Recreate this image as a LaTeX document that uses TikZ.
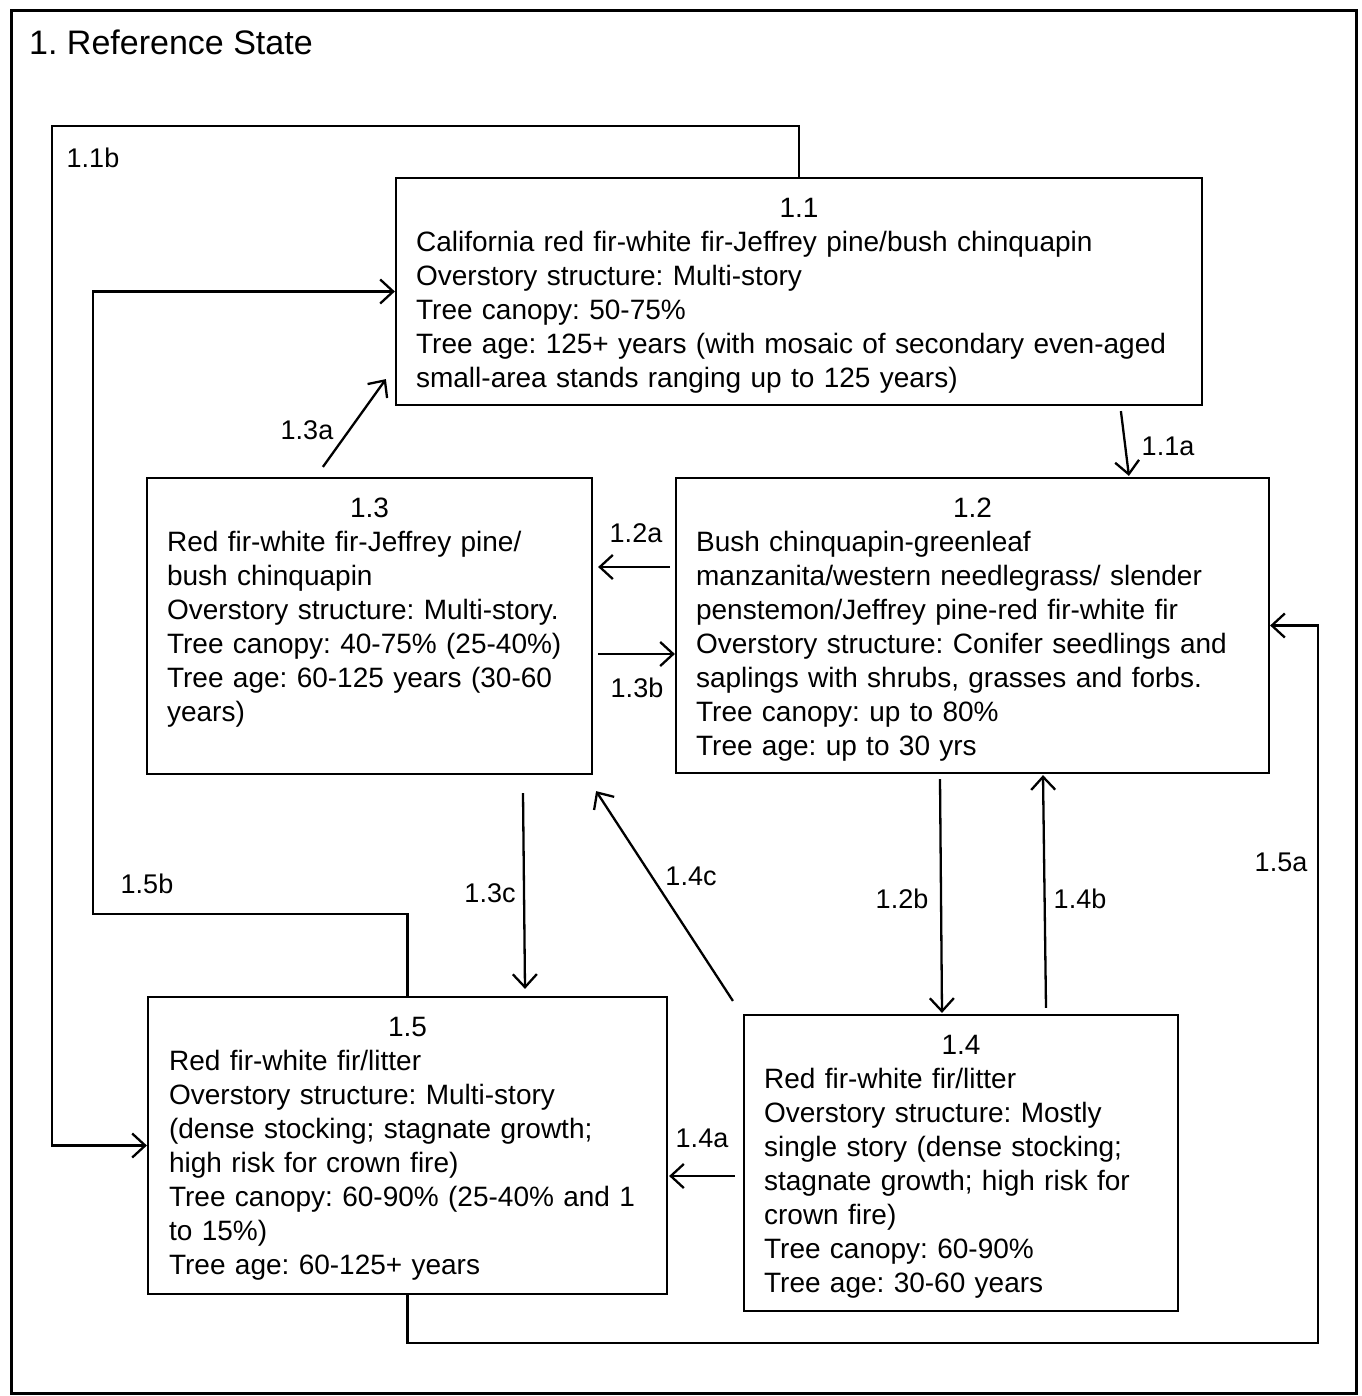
\documentclass[tikz,border=0pt]{standalone}
\usepackage{fontspec}
\setmainfont{Liberation Sans}
\usetikzlibrary{arrows.meta,calc}
\begin{document}
\frenchspacing
\begin{tikzpicture}[x=1pt,y=-1pt,
  box/.style={draw, line width=2.2pt, rectangle, inner sep=0pt},
  bodytxt/.style={inner sep=0pt, anchor=base west, align=left, text width=790pt, font=\frenchspacing\fontsize{28}{34}\selectfont},
  ttl/.style={inner sep=0pt, anchor=base, font=\fontsize{28}{34}\selectfont},
  lbl/.style={inner sep=0pt, font=\fontsize{27}{32}\selectfont},
  arr/.style={line width=2.3pt, -{Straight Barb[length=13pt,width=24pt]}},
]
\useasboundingbox (0,0) rectangle (1361,1396);
\draw[line width=3pt] (11,11) rectangle (1356,1393);
\node[inner sep=0pt, anchor=base west, font=\frenchspacing\fontsize{34}{40}\selectfont] (title) at (29,55) {1. Reference State};

% boxes
\node[box, minimum width=806pt, minimum height=227pt] (b11) at (799,291.5) {};
\node[box, minimum width=445pt, minimum height=296pt] (b13) at (369.5,626) {};
\node[box, minimum width=593pt, minimum height=295pt] (b12) at (972.5,625.5) {};
\node[box, minimum width=519pt, minimum height=297pt] (b15) at (407.5,1145.5) {};
\node[box, minimum width=434pt, minimum height=296pt] (b14) at (961,1163) {};

% titles
\node[ttl] (t11) at ($(b11.north)+(0,41)$) {1.1};
\node[ttl] (t13) at ($(b13.north)+(0,41)$) {1.3};
\node[ttl] (t12) at ($(b12.north)+(0,41)$) {1.2};
\node[ttl] (t15) at ($(b15.north)+(0,41)$) {1.5};
\node[ttl] (t14) at ($(b14.north)+(0,41)$) {1.4};

% body texts
\node[bodytxt] (x11) at ($(b11.north west)+(21,75)$) {California red fir-white fir-Jeffrey pine/bush chinquapin\\
Overstory structure: Multi-story\\
Tree canopy: 50-75\%\\
Tree age: 125+ years (with mosaic of secondary even-aged\\
small-area stands ranging up to 125 years)};
\node[bodytxt] (x13) at ($(b13.north west)+(21,75)$) {Red fir-white fir-Jeffrey pine/\\
bush chinquapin\\
Overstory structure: Multi-story.\\
Tree canopy: 40-75\% (25-40\%)\\
Tree age: 60-125 years (30-60\\
years)};
\node[bodytxt] (x12) at ($(b12.north west)+(21,75)$) {Bush chinquapin-greenleaf\\
manzanita/western needlegrass/ slender\\
penstemon/Jeffrey pine-red fir-white fir\\
Overstory structure: Conifer seedlings and\\
saplings with shrubs, grasses and forbs.\\
Tree canopy: up to 80\%\\
Tree age: up to 30 yrs};
\node[bodytxt] (x15) at ($(b15.north west)+(22,75)$) {Red fir-white fir/litter\\
Overstory structure: Multi-story\\
(dense stocking; stagnate growth;\\
high risk for crown fire)\\
Tree canopy: 60-90\% (25-40\% and 1\\
to 15\%)\\
Tree age: 60-125+ years};
\node[bodytxt] (x14) at ($(b14.north west)+(21,75)$) {Red fir-white fir/litter\\
Overstory structure: Mostly\\
single story (dense stocking;\\
stagnate growth; high risk for\\
crown fire)\\
Tree canopy: 60-90\%\\
Tree age: 30-60 years};

% bend coordinates
\coordinate (k1) at (52,126);
\coordinate (k2) at (93,914);
\coordinate (k3) at (1318,1343);

% connectors
\draw[arr] (b11.north) |- (k1) |- (b15.west);
\draw[arr] (b15.north) |- (k2) |- (b11.west);
\draw[arr] (b15.south) |- (k3) |- (b12.east);
\draw[arr] ($(b11.south west)+(726,5)$) -- ($(b12.north west)+(454,-1)$);
\draw[arr] ($(b13.north west)+(177,-10)$) -- ($(b11.south west)+(-9,-27)$);
\draw[arr] ($(b12.west)+(-5,-58.5)$) -- ($(b13.east)+(5,-59)$);
\draw[arr] ($(b13.east)+(5,28)$) -- ($(b12.west)+(0,28.5)$);
\draw[arr] ($(b13.south)+(153.5,18)$) -- ($(b15.north)+(117.5,-7)$);
\draw[arr] ($(b14.north west)+(-10,-13)$) -- ($(b13.south east)+(3,16)$);
\draw[arr] ($(b12.south)+(-32.5,5)$) -- ($(b14.north)+(-19,-1)$);
\draw[arr] ($(b14.north)+(85,-6)$) -- ($(b12.south)+(70.5,1)$);
\draw[arr] ($(b14.west)+(-8,13)$) -- ($(b15.east)+(1,30.5)$);

% labels
\node[lbl] (l11b) at (93,158) {1.1b};
\node[lbl] (l15b) at (147,884) {1.5b};
\node[lbl] (l15a) at (1281,862) {1.5a};
\node[lbl] (l11a) at (1168,446) {1.1a};
\node[lbl] (l13a) at (307,430) {1.3a};
\node[lbl] (l12a) at (636,533) {1.2a};
\node[lbl] (l13b) at (637,688) {1.3b};
\node[lbl] (l13c) at (490,893) {1.3c};
\node[lbl] (l14c) at (691,876) {1.4c};
\node[lbl] (l12b) at (902,899) {1.2b};
\node[lbl] (l14b) at (1080,899) {1.4b};
\node[lbl] (l14a) at (702,1138) {1.4a};
\end{tikzpicture}
\end{document}
